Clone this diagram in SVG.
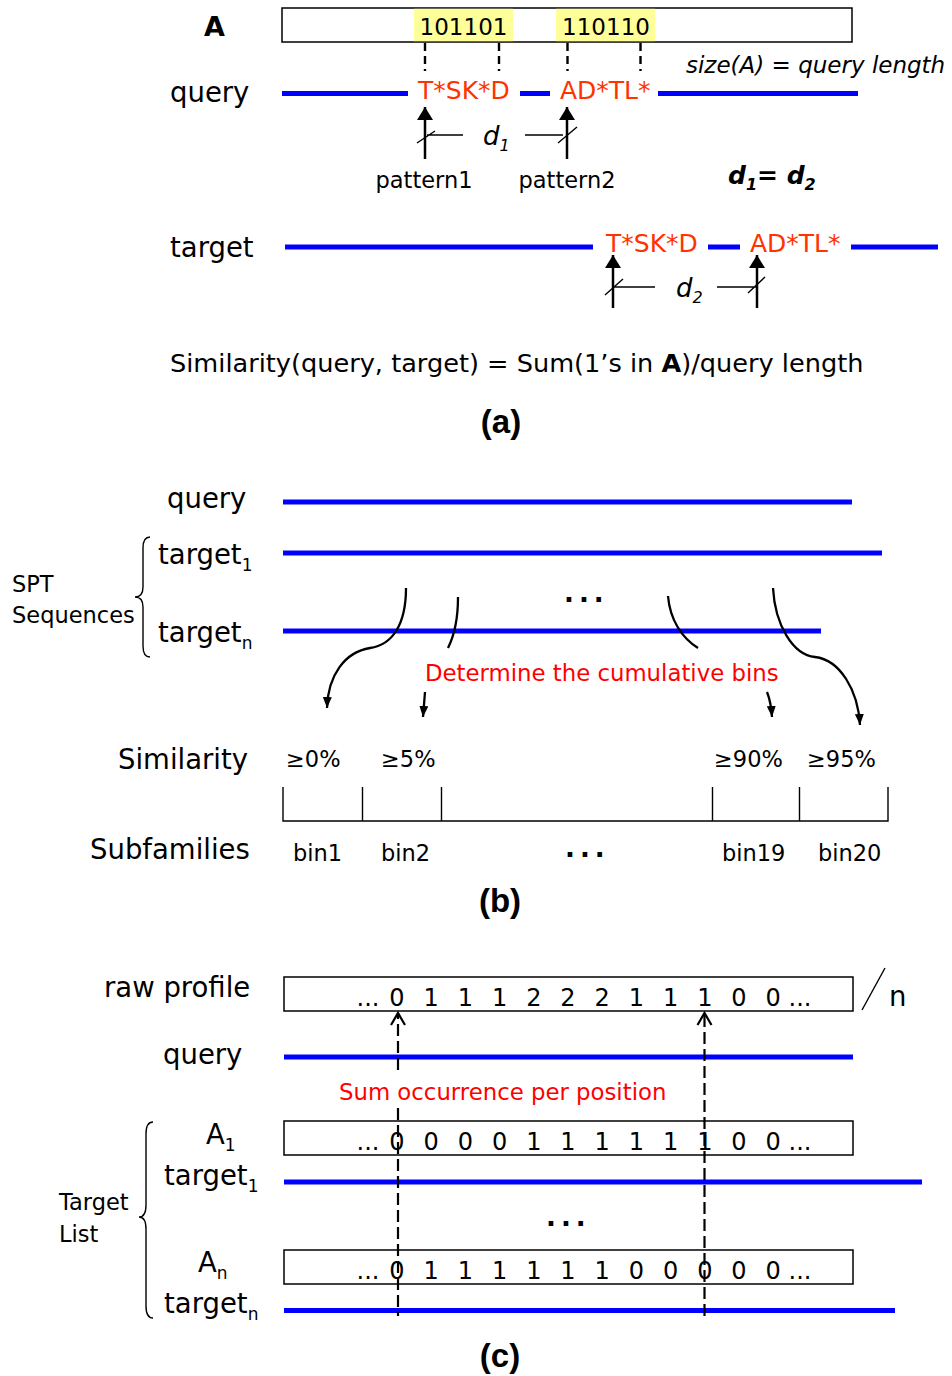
<svg xmlns="http://www.w3.org/2000/svg" width="952" height="1376" viewBox="0 0 952 1376">
<defs>
<style>
text{font-family:"DejaVu Sans","Verdana",sans-serif;fill:#000}
.lbl{font-size:27.5px}
.sm{font-size:22.5px}
.red{fill:#ff3300;font-size:25px}
.redb{fill:#ff0000;font-size:22.8px}
.cap{font-family:"Liberation Sans",Arial,sans-serif;font-weight:bold;font-size:33px;text-anchor:middle}
.blue{stroke:#0000ff;stroke-width:5;fill:none}
.box{fill:#fff;stroke:#000;stroke-width:1.5}
.dash{stroke:#000;stroke-width:2.4;stroke-dasharray:8 5;fill:none}
.dash2{stroke:#000;stroke-width:2.2;stroke-dasharray:12 5;fill:none}
.arr{stroke:#000;stroke-width:2.5;fill:none;marker-end:url(#tri)}
.thin{stroke:#000;stroke-width:1.4;fill:none}
.curve{stroke:#000;stroke-width:2.3;fill:none}
.dig{font-size:24px;text-anchor:middle}
.dots{font-weight:bold;font-size:26px;letter-spacing:5px}
</style>
<marker id="tri" viewBox="0 0 13 16" refX="13" refY="8" markerWidth="13" markerHeight="16" markerUnits="userSpaceOnUse" orient="auto">
<path d="M0,0 L13,8 L0,16 z" fill="#000"/>
</marker>
<marker id="tris" viewBox="0 0 11 9" refX="11" refY="4.5" markerWidth="11" markerHeight="9" markerUnits="userSpaceOnUse" orient="auto">
<path d="M0,0 L11,4.5 L0,9 z" fill="#000"/>
</marker>
<marker id="chev" viewBox="0 0 14 16" refX="13" refY="8" markerWidth="14" markerHeight="16" markerUnits="userSpaceOnUse" orient="auto" overflow="visible">
<path d="M1,1 L13,8 L1,15" fill="none" stroke="#000" stroke-width="2.2"/>
</marker>
</defs>
<rect x="0" y="0" width="952" height="1376" fill="#fff"/>

<!-- ===== Panel (a) ===== -->
<g id="panel-a">
  <g id="a-box">
    <text x="204" y="36" style="font-weight:bold;font-size:27px">A</text>
    <rect class="box" x="282" y="8" width="570" height="34"/>
    <rect x="414" y="8.8" width="99" height="32.4" fill="#ffff99"/>
    <rect x="556" y="8.8" width="99" height="32.4" fill="#ffff99"/>
    <text x="463.5" y="35" style="font-size:23px;text-anchor:middle">101101</text>
    <text x="606" y="35" style="font-size:23px;text-anchor:middle">110110</text>
    <text x="686" y="73" style="font-size:23px;font-style:italic">size(A) = query length</text>
  </g>
  <g id="a-query">
    <text class="lbl" x="170" y="102">query</text>
    <path class="blue" d="M282,93.5 H408 M520,93.5 H550 M658,93.5 H858"/>
    <text class="red" x="418" y="99">T*SK*D</text>
    <text class="red" x="560" y="99">AD*TL*</text>
    <text class="sm" x="424" y="188" text-anchor="middle">pattern1</text>
    <text class="sm" x="567" y="188" text-anchor="middle">pattern2</text>
    <text x="483" y="145" style="font-size:26px;font-style:italic">d<tspan dy="6" style="font-size:16px">1</tspan></text>
  </g>
  <g id="a-eq">
    <text x="728" y="184" style="font-size:25px;font-style:italic;font-weight:bold">d<tspan dy="6" style="font-size:16px">1</tspan><tspan dy="-6">= d</tspan><tspan dy="6" style="font-size:16px">2</tspan></text>
  </g>
  <g id="a-target">
    <text class="lbl" x="170" y="257">target</text>
    <path class="blue" d="M285,247 H593 M708,247 H740 M851,247 H938"/>
    <text class="red" x="606" y="252">T*SK*D</text>
    <text class="red" x="750" y="252">AD*TL*</text>
    <text x="676" y="297" style="font-size:26px;font-style:italic">d<tspan dy="6" style="font-size:16px">2</tspan></text>
  </g>
  <g id="a-formula">
    <text x="170" y="372" style="font-size:25.6px">Similarity(query, target) = Sum(1’s in <tspan font-weight="bold">A</tspan>)/query length</text>
    <text class="cap" x="501" y="433">(a)</text>
  </g>
</g>

<!-- ===== Panel (b) ===== -->
<g id="panel-b">
  <g id="b-seqs">
    <text class="lbl" x="167" y="508">query</text>
    <path class="blue" d="M283,502 H852"/>
    <text class="lbl" x="158" y="564">target<tspan dy="7" style="font-size:17px">1</tspan></text>
    <path class="blue" d="M283,553 H882"/>
    <text class="lbl" x="158" y="642">target<tspan dy="7" style="font-size:17px">n</tspan></text>
    <path class="blue" d="M283,631 H821"/>
    <text class="dots" x="564" y="602">...</text>
  </g>
  <g id="b-brace">
    <path class="thin" d="M150,537 Q143,537 143,548 L143,587 Q143,597 135,597 Q143,597 143,607 L143,646 Q143,657 150,657"/>
    <text class="sm" x="12" y="592">SPT</text>
    <text class="sm" x="12" y="623">Sequences</text>
  </g>
  <g id="b-determine">
    <text class="redb" x="425" y="681">Determine the cumulative bins</text>
  </g>
  <g id="b-scale">
    <text class="lbl" x="118" y="769">Similarity</text>
    <text class="sm" x="286" y="767">≥0%</text>
    <text class="sm" x="381" y="767">≥5%</text>
    <text class="sm" x="714" y="767">≥90%</text>
    <text class="sm" x="807" y="767">≥95%</text>
    <path class="thin" d="M283,787 V821 H888 V787 M362.5,787 V821 M441.5,787 V821 M712.5,787 V821 M799.5,787 V821"/>
    <text class="lbl" x="90" y="859">Subfamilies</text>
    <text class="sm" x="293" y="861">bin1</text>
    <text class="sm" x="381" y="861">bin2</text>
    <text class="dots" x="565" y="857">...</text>
    <text class="sm" x="722" y="861">bin19</text>
    <text class="sm" x="818" y="861">bin20</text>
    <text class="cap" x="500" y="912">(b)</text>
  </g>
</g>

<!-- ===== Panel (c) ===== -->
<g id="panel-c">
  <g id="c-raw">
    <text class="lbl" x="104" y="997">raw profile</text>
    <rect class="box" x="284" y="977" width="569" height="34"/>
    <text class="dig" x="368" y="1006">...</text>
    <text class="dig" x="397 431.2 465.4 499.6 533.8 568 602.2 636.4 670.6 704.8 739 773.2" y="1006">011122211100</text>
    <text class="dig" x="800" y="1006">...</text>
    <line class="thin" x1="862" y1="1010" x2="885" y2="968"/>
    <text class="lbl" x="889" y="1006">n</text>
  </g>
  <g id="c-query">
    <text class="lbl" x="163" y="1064">query</text>
    <path class="blue" d="M284,1057 H853"/>
    <text class="redb" x="339" y="1100">Sum occurrence per position</text>
  </g>
  <g id="c-target1">
    <text class="lbl" x="206" y="1144">A<tspan dy="7" style="font-size:17px">1</tspan></text>
    <rect class="box" x="284" y="1121" width="569" height="34"/>
    <text class="dig" x="368" y="1150">...</text>
    <text class="dig" x="397 431.2 465.4 499.6 533.8 568 602.2 636.4 670.6 704.8 739 773.2" y="1150">000011111100</text>
    <text class="dig" x="800" y="1150">...</text>
    <text class="lbl" x="164" y="1185">target<tspan dy="7" style="font-size:17px">1</tspan></text>
    <path class="blue" d="M284,1182 H922"/>
  </g>
  <text class="dots" x="546" y="1226">...</text>
  <g id="c-targetn">
    <text class="lbl" x="198" y="1272">A<tspan dy="7" style="font-size:17px">n</tspan></text>
    <rect class="box" x="284" y="1250" width="569" height="34"/>
    <text class="dig" x="368" y="1279">...</text>
    <text class="dig" x="397 431.2 465.4 499.6 533.8 568 602.2 636.4 670.6 704.8 739 773.2" y="1279">011111100000</text>
    <text class="dig" x="800" y="1279">...</text>
    <text class="lbl" x="164" y="1313">target<tspan dy="7" style="font-size:17px">n</tspan></text>
    <path class="blue" d="M284,1310.5 H895"/>
  </g>
  <g id="c-brace">
    <path class="thin" d="M153,1122 Q146,1122 146,1134 L146,1205 Q146,1217 139,1217 Q146,1217 146,1229 L146,1306 Q146,1318 153,1318"/>
    <text class="sm" x="59" y="1210">Target</text>
    <text class="sm" x="59" y="1242">List</text>
  </g>
  <text class="cap" x="500" y="1367">(c)</text>
</g>

<!-- ===== Connectors ===== -->
<g id="connectors">
  <path class="dash" d="M425,43 V71 M499,43 V71 M567.5,43 V71 M640.5,43 V71"/>
  <path class="arr" d="M425,159 V107"/>
  <path class="arr" d="M567,159 V107"/>
  <path class="thin" d="M427,135 H463 M525,135 H563 M417,143 L435,131 M558,143 L577,127"/>
  <path class="arr" d="M613,308 V255"/>
  <path class="arr" d="M757,308 V255"/>
  <path class="thin" d="M613,287 H655 M717,287 H757 M605,295 L623,279 M748,293 L765,277"/>
  <path class="curve" d="M406,588 C406,625 392,645 370,648 C345,652 328,675 327,708" marker-end="url(#tris)"/>
  <path class="curve" d="M458,597 C458,618 454,636 448,648"/>
  <path class="curve" d="M425,692 L423,717" marker-end="url(#tris)"/>
  <path class="curve" d="M668,596 C670,620 682,638 698,648"/>
  <path class="curve" d="M773,588 C775,625 793,655 815,657 C840,660 858,690 860,725" marker-end="url(#tris)"/>
  <path class="curve" d="M767,692 Q771,702 772,717" marker-end="url(#tris)"/>
  <path class="dash2" d="M398,1070 V1013" marker-end="url(#chev)"/>
  <path class="dash2" d="M398,1108 V1316"/>
  <path class="dash2" d="M704.5,1316 V1013" marker-end="url(#chev)"/>
</g>
</svg>
